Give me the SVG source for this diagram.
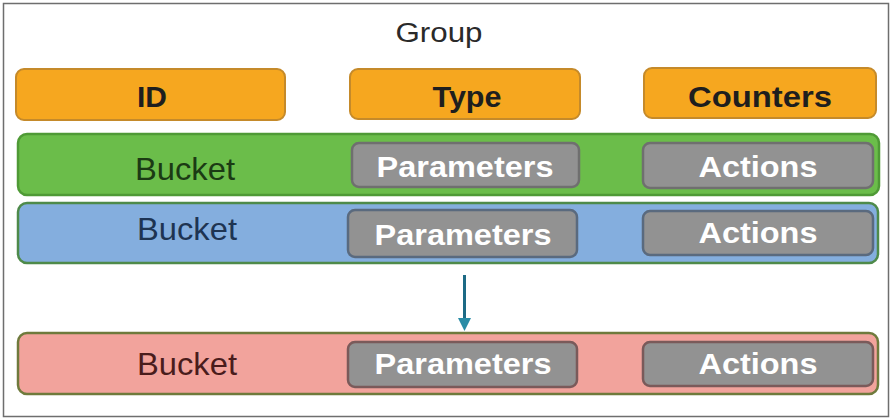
<svg xmlns="http://www.w3.org/2000/svg" width="893" height="419" viewBox="0 0 893 419">
<style>
.hdr{fill:#f6a71f;stroke:#c58a2a;stroke-width:2}
.hdrt{font-family:"Liberation Sans",Arial,sans-serif;font-weight:bold;font-size:29px;fill:#1e1e1e;text-anchor:middle}
.bt{font-family:"Liberation Sans",Arial,sans-serif;font-size:32px;text-anchor:middle}
.sub{fill:#929292;stroke-width:2.5}
.subt{font-family:"Liberation Sans",Arial,sans-serif;font-weight:bold;font-size:30px;fill:#ffffff;text-anchor:middle}
.ttl{font-family:"Liberation Sans",Arial,sans-serif;font-size:27px;fill:#2a2a2a;text-anchor:middle}
</style>
<rect x="0" y="0" width="893" height="419" fill="#ffffff"/>
<rect x="3.5" y="3.5" width="885" height="413" fill="#ffffff" stroke="#6e6e6e" stroke-width="1.5"/>
<g id="title"><text class="ttl" x="439" y="42" textLength="87" lengthAdjust="spacingAndGlyphs">Group</text></g>
<g id="id"><rect class="hdr" x="16" y="69" width="269" height="51" rx="8"/><text class="hdrt" x="152" y="107" textLength="30" lengthAdjust="spacingAndGlyphs">ID</text></g>
<g id="type"><rect class="hdr" x="350" y="69" width="230" height="50" rx="8"/><text class="hdrt" x="467" y="107" textLength="69" lengthAdjust="spacingAndGlyphs">Type</text></g>
<g id="counters"><rect class="hdr" x="644" y="68" width="232" height="50" rx="8"/><text class="hdrt" x="760" y="107" textLength="144" lengthAdjust="spacingAndGlyphs">Counters</text></g>
<g id="bucket1">
<rect x="18" y="134" width="861" height="61" rx="9" fill="#6bbd4a" stroke="#4f9a36" stroke-width="2.5"/>
<text class="bt" x="185" y="180" fill="#1b3a14" textLength="100" lengthAdjust="spacingAndGlyphs">Bucket</text>
<rect class="sub" x="352" y="143" width="227" height="44" rx="7" stroke="#6f6f6f"/>
<text class="subt" x="465" y="177" textLength="177" lengthAdjust="spacingAndGlyphs">Parameters</text>
<rect class="sub" x="643" y="143" width="230" height="45" rx="7" stroke="#6f6f6f"/>
<text class="subt" x="758" y="177" textLength="119" lengthAdjust="spacingAndGlyphs">Actions</text>
</g>
<g id="bucket2">
<rect x="18" y="203" width="860" height="60" rx="9" fill="#84aede" stroke="#4e8a4a" stroke-width="2.5"/>
<text class="bt" x="187" y="240" fill="#1e3452" textLength="100" lengthAdjust="spacingAndGlyphs">Bucket</text>
<rect class="sub" x="348" y="210" width="229" height="47" rx="7" stroke="#5a6a7e"/>
<text class="subt" x="463" y="245" textLength="177" lengthAdjust="spacingAndGlyphs">Parameters</text>
<rect class="sub" x="643" y="211" width="230" height="44" rx="7" stroke="#5a6a7e"/>
<text class="subt" x="758" y="243" textLength="119" lengthAdjust="spacingAndGlyphs">Actions</text>
</g>
<g id="bucket3">
<rect x="18" y="333" width="860" height="61" rx="9" fill="#f2a39c" stroke="#6f7a3c" stroke-width="2.5"/>
<text class="bt" x="187" y="375" fill="#4a1c1c" textLength="100" lengthAdjust="spacingAndGlyphs">Bucket</text>
<rect class="sub" x="348" y="342" width="229" height="45" rx="7" stroke="#7a5a5a"/>
<text class="subt" x="463" y="374" textLength="177" lengthAdjust="spacingAndGlyphs">Parameters</text>
<rect class="sub" x="643" y="342" width="230" height="44" rx="7" stroke="#7a5a5a"/>
<text class="subt" x="758" y="374" textLength="119" lengthAdjust="spacingAndGlyphs">Actions</text>
</g>
<g id="connectors">
<line x1="464.5" y1="275" x2="464.5" y2="321" stroke="#1d6a85" stroke-width="3"/>
<path d="M458,318 L471,318 L464.5,331 Z" fill="#2a8ca6"/>
</g>
</svg>
